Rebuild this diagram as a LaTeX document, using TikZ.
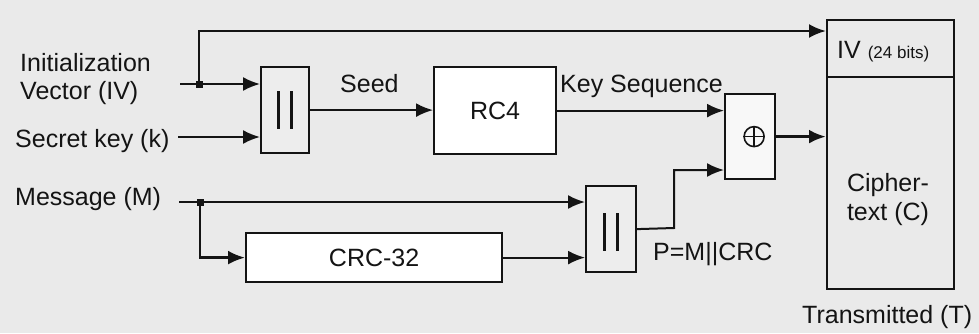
\documentclass[tikz,border=0pt]{standalone}
\usepackage{fontspec}
\setmainfont{Liberation Sans}
\usetikzlibrary{arrows.meta}
\definecolor{bg}{HTML}{EAEAEA}
\definecolor{boxgray}{HTML}{EDEDED}
\definecolor{ink}{HTML}{141414}
\begin{document}
\begin{tikzpicture}[x=1pt,y=-1pt,
  box/.style={draw=ink, line width=2.2pt, inner sep=0pt, anchor=north west},
  lbl/.style={font=\fontsize{25}{29}\selectfont, inner sep=0pt, text=ink},
  arr/.style={draw=ink, -{Latex[length=17pt,width=14pt]}, line width=2pt},
  conn/.style={draw=ink, line width=2pt},
  bar/.style={draw=ink, line width=2.8pt},
  junction/.style={fill=ink, inner sep=0pt, minimum size=7pt}]
\useasboundingbox (0,0) rectangle (979,333);
\fill[bg] (0,0) rectangle (979,333);

% boxes
\node[box, fill=boxgray, minimum width=48pt, minimum height=86pt] (cat1) at (260,66) {};
\node[box, fill=white, minimum width=122pt, minimum height=87pt] (rc4) at (433,66) {};
\node[box, fill=white, minimum width=256pt, minimum height=49pt] (crc) at (245,232) {};
\node[box, fill=boxgray, minimum width=50pt, minimum height=86pt] (cat2) at (585,185) {};
\node[box, fill=white!60!boxgray, minimum width=50pt, minimum height=85pt] (xor) at (724,93) {};
\node[box, fill=bg, minimum width=127pt, minimum height=269pt] (tx) at (826,19) {};
\draw[conn] (tx.west |- 0,77) -- (tx.east |- 0,77);

% box contents
\node[lbl] (rc4t) at (rc4.center) {RC4};
\node[lbl] (crct) at (crc.center) {CRC-32};
\draw[bar] ([xshift=-6.5pt]cat1.center) ++(0,-19) -- ++(0,38);
\draw[bar] ([xshift=6.5pt]cat1.center) ++(0,-19) -- ++(0,38);
\draw[bar] ([xshift=-6.5pt,yshift=-3pt]cat2.center) ++(0,-19) -- ++(0,38);
\draw[bar] ([xshift=6.5pt,yshift=-3pt]cat2.center) ++(0,-19) -- ++(0,38);
\node[draw=ink, line width=1.6pt, circle, minimum size=20pt, inner sep=0pt] (xs) at ([xshift=4pt]xor.center) {};
\draw[ink, line width=1.6pt] (xs.north) -- (xs.south) (xs.west) -- (xs.east);

% labels
\node[lbl, anchor=base west] (l1) at (20,71) {Initialization};
\node[lbl, anchor=base west] (l2) at (20,99) {Vector (IV)};
\node[lbl, anchor=base west] (l3) at (15,147) {Secret key (k)};
\node[lbl, anchor=base west] (l4) at (15,205) {Message (M)};
\node[lbl, anchor=base west] (l5) at (340,92) {Seed};
\node[lbl, anchor=base west] (l6) at (560,92) {Key Sequence};
\node[lbl, anchor=base west] (l7) at (653,260) {P=M||CRC};
\node[lbl, anchor=base west] (l8) at (837,58) {IV {\fontsize{17}{20}\selectfont(24 bits)}};
\node[lbl, anchor=base] (l9) at (888,191) {Cipher-};
\node[lbl, anchor=base] (l10) at (888,220) {text (C)};
\node[lbl, anchor=base west] (l11) at (802,323) {Transmitted (T)};

% connectors
\coordinate (ivs) at (180,84);
\coordinate (ivd) at (199,84);
\coordinate (sks) at (178,137);
\coordinate (ms) at (179,202);
\coordinate (md) at (200,202);
\coordinate (pb) at (674,228);
\coordinate (xin) at (724,170);
\coordinate (ivtop) at (826,31);

\draw[arr] (ivs) -- (ivs -| cat1.west);
\draw[arr, line width=2.6pt] (ivd) |- (ivtop);
\node[junction] (j1) at (ivd) {};
\draw[arr] (sks) -- (sks -| cat1.west);
\draw[arr] (cat1.east) -- (cat1.east -| rc4.west);
\draw[arr] (rc4.east) -- (rc4.east -| xor.west);
\draw[arr, line width=3.2pt] (xor.east) -- (xor.east -| tx.west);
\draw[arr] (ms) -- (ms -| cat2.west);
\draw[arr, line width=2.6pt] (md) |- (crc.west);
\node[junction] (j2) at (md) {};
\draw[arr] (crc.east) -- (crc.east -| cat2.west);
\draw[arr] (cat2.east) -- (pb) |- (xin);
\end{tikzpicture}
\end{document}
